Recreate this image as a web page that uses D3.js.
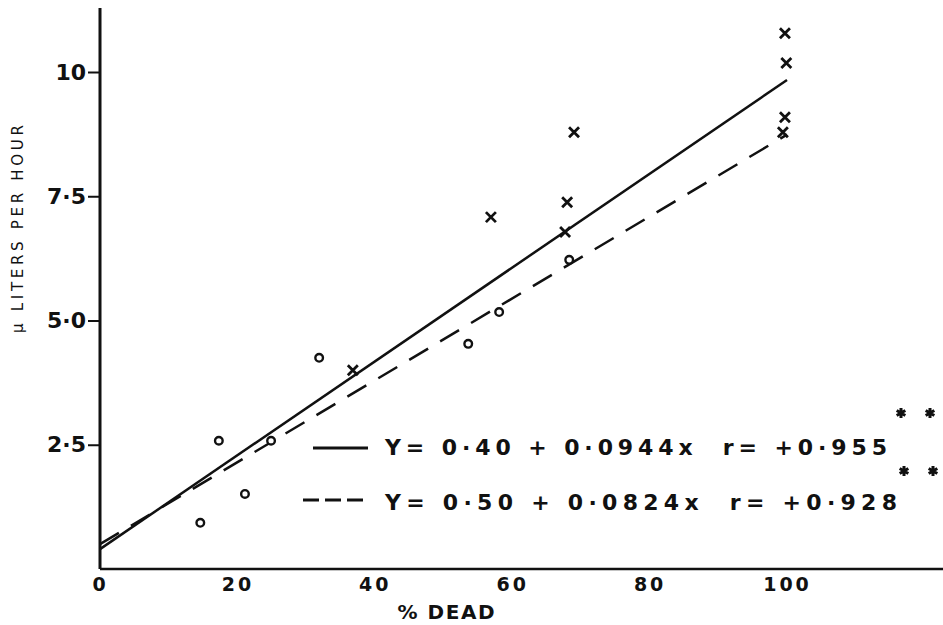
<!DOCTYPE html>
<html>
<head>
<meta charset="utf-8">
<script src="https://cdn.jsdelivr.net/npm/d3@7"></script>
<style>
  body { margin: 0; background: #fff; }
  text { font-family: "DejaVu Sans", sans-serif; fill: #111; }
</style>
</head>
<body>
<svg id="chart"></svg>
<script>
// data
const circleX = [14.6, 17.3, 21.1, 24.9, 31.9, 53.6, 58.1, 68.3];
const circleY = [0.93, 2.58, 1.51, 2.58, 4.25, 4.53, 5.17, 6.22];
const crossX = [36.8, 56.9, 68.0, 67.7, 69.0, 99.7, 99.9, 99.7, 99.4];
const crossY = [4.0, 7.08, 7.38, 6.78, 8.79, 10.78, 10.18, 9.09, 8.79];

// regression lines (solid, dashed)
const fitIntercept = [0.40, 0.50];
const fitSlope = [0.0944, 0.0824];
const fitR = [0.955, 0.928];
const fitDash = [null, "22,14"];

const xTicks = [0, 20, 40, 60, 80, 100];
const yTicks = [2.5, 5, 7.5, 10];
const yTickLabels = ["2·5", "5·0", "7·5", "10"];

const width = 943, height = 625;
const dot = s => s.replace(".", "·");

const svg = d3.select("#chart")
  .attr("width", width)
  .attr("height", height);

const x = d3.scaleLinear().domain([0, 100]).range([100, 787]);
const y = d3.scaleLinear().domain([0, 10]).range([569, 72]);

// axes
const yAxis = d3.axisLeft(y)
  .tickValues(yTicks)
  .tickSize(12)
  .tickSizeOuter(0)
  .tickFormat((d, i) => yTickLabels[i]);

const yAxisGroup = svg.append("g")
  .attr("transform", `translate(${x(0)},0)`)
  .call(yAxis);
yAxisGroup.select(".domain").remove();
yAxisGroup.selectAll(".tick line").attr("stroke", "#111").attr("stroke-width", 2);
yAxisGroup.selectAll(".tick text")
  .attr("x", -14)
  .style("font-size", "22px")
  .style("font-weight", "bold")
  .style("font-family", "DejaVu Sans")
  .attr("fill", "#111");

const xAxis = d3.axisBottom(x)
  .tickValues(xTicks)
  .tickSize(0)
  .tickSizeOuter(0);

const xAxisGroup = svg.append("g")
  .attr("transform", `translate(0,${y(0)})`)
  .call(xAxis);
xAxisGroup.select(".domain").remove();
xAxisGroup.selectAll(".tick text")
  .attr("y", 22)
  .attr("dy", 0)
  .style("font-size", "19px")
  .style("font-weight", "bold")
  .style("letter-spacing", "3px")
  .style("font-family", "DejaVu Sans")
  .attr("fill", "#111");

// axis lines
svg.append("line")
  .attr("x1", x(0)).attr("x2", x(0))
  .attr("y1", 8).attr("y2", y(0))
  .attr("stroke", "#111").attr("stroke-width", 3);
svg.append("line")
  .attr("x1", x(0)).attr("x2", width)
  .attr("y1", y(0)).attr("y2", y(0))
  .attr("stroke", "#111").attr("stroke-width", 2.5);

// axis titles
svg.append("text")
  .attr("x", 446)
  .attr("y", 619)
  .attr("text-anchor", "middle")
  .attr("textLength", 97)
  .style("font-size", "20px")
  .style("font-weight", "bold")
  .text("% DEAD");

svg.append("text")
  .attr("transform", "translate(18,229) rotate(-90)")
  .attr("text-anchor", "middle")
  .attr("dy", "0.35em")
  .attr("textLength", 208)
  .style("font-size", "15px")
  .text("μ LITERS PER HOUR");

// fit lines
fitIntercept.forEach((b, i) => {
  svg.append("line")
    .attr("x1", x(0)).attr("y1", y(b))
    .attr("x2", x(100)).attr("y2", y(b + fitSlope[i] * 100))
    .attr("stroke", "#111")
    .attr("stroke-width", 2.5)
    .attr("stroke-dasharray", fitDash[i]);
});

// points
const circles = circleX.map((v, i) => ({ x: v, y: circleY[i] }));
const crosses = crossX.map((v, i) => ({ x: v, y: crossY[i] }));

svg.selectAll(".circ")
  .data(circles)
  .join("circle")
  .attr("class", "circ")
  .attr("cx", d => x(d.x))
  .attr("cy", d => y(d.y))
  .attr("r", 3.8)
  .attr("fill", "#fff")
  .attr("stroke", "#111")
  .attr("stroke-width", 2.4);

svg.selectAll(".cross")
  .data(crosses)
  .join("path")
  .attr("class", "cross")
  .attr("transform", d => `translate(${x(d.x)},${y(d.y)})`)
  .attr("d", "M-5,-5L5,5M-5,5L5,-5")
  .attr("stroke", "#111")
  .attr("stroke-width", 2.8);

// legend
const legendY = [448, 500];
const legendSample = [[313, 368], [303, 367]];
const legendTextLen = [502, 512];
const legendStar = [[901, 930], [904, 933]];

fitIntercept.forEach((b, i) => {
  svg.append("line")
    .attr("x1", legendSample[i][0]).attr("x2", legendSample[i][1])
    .attr("y1", legendY[i]).attr("y2", legendY[i])
    .attr("stroke", "#111")
    .attr("stroke-width", 3)
    .attr("stroke-dasharray", i === 1 ? "16,6" : null);

  svg.append("text")
    .attr("x", 385)
    .attr("y", legendY[i] + 7 + i * 3)
    .attr("textLength", legendTextLen[i])
    .attr("lengthAdjust", "spacing")
    .style("white-space", "pre")
    .style("font-size", "22px")
    .style("font-weight", "bold")
    .text(`Y= ${dot(b.toFixed(2))} + ${dot(fitSlope[i].toFixed(4))}x  r= +${dot(fitR[i].toFixed(3))}`);

  legendStar[i].forEach(sx => {
    svg.append("path")
      .attr("transform", `translate(${sx},${legendY[i] - 35 + i * 6})`)
      .attr("d", d3.symbol(d3.symbolAsterisk, 70)())
      .attr("stroke", "#111")
      .attr("stroke-width", 3);
  });
});
</script>
</body>
</html>
